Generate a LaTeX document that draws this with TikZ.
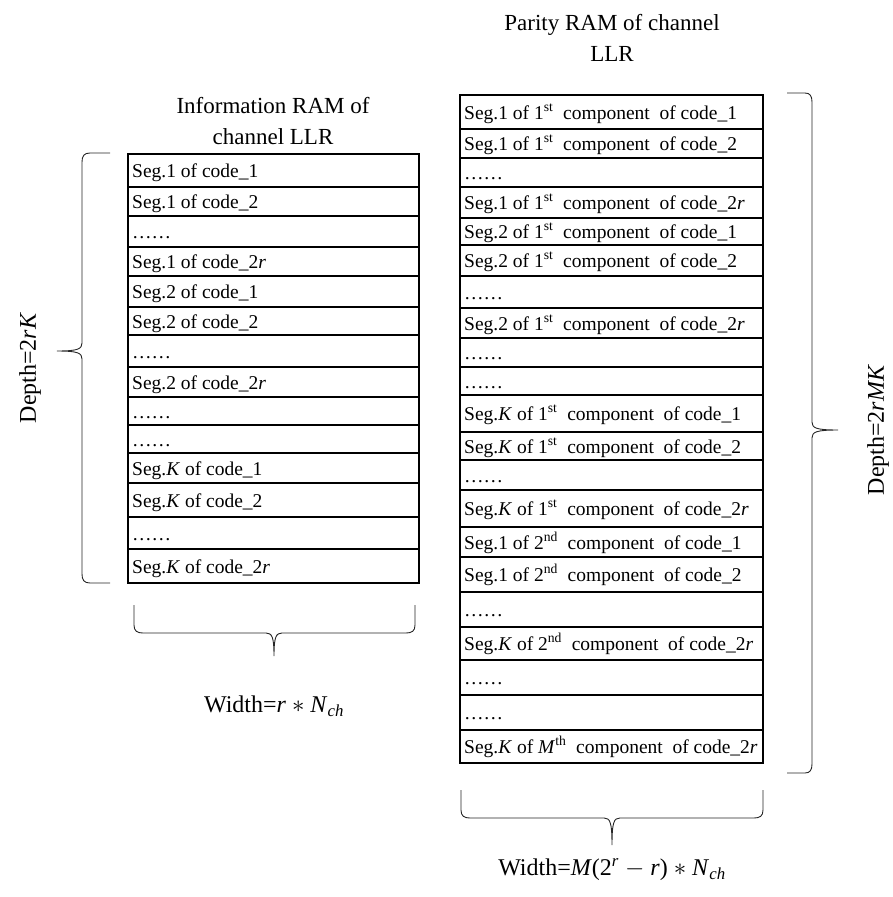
\documentclass[tikz,border=0pt]{standalone}
\usepackage{fontspec}
\setmainfont{Liberation Serif}
\newcommand{\vi}[1]{\textit{#1}}
\begin{document}
\begin{tikzpicture}[x=1pt,y=-1pt]
\tikzset{
 cell/.style={font=\fontsize{19.5}{22}\selectfont, anchor=base west, inner sep=0pt},
 grid/.style={line width=1.6pt},
 brace/.style={line width=0.9pt, black!85},
 title/.style={font=\fontsize{23}{31}\selectfont, align=center},
 lab/.style={font=\fontsize{24}{28}\selectfont},
}
\useasboundingbox (0,0) rectangle (892,897);
% Left table
\foreach \t/\b/\txt [count=\i] in {
 154/187/{Seg.1 of code\_1},
 187/216/{Seg.1 of code\_2},
 216/247/{……},
 247/276/{Seg.1 of code\_2\vi{r}},
 276/307/{Seg.2 of code\_1},
 307/335/{Seg.2 of code\_2},
 335/367/{……},
 367/397/{Seg.2 of code\_2\vi{r}},
 397/425/{……},
 425/453/{……},
 453/483/{Seg.\vi{K} of code\_1},
 483/517/{Seg.\vi{K} of code\_2},
 517/549/{……},
 549/583/{Seg.\vi{K} of code\_2\vi{r}}}{
 \draw[grid] (128,\t) rectangle (419,\b);
 \node[cell] (l\i) at (132,{(\t+\b)/2+7}) {\txt};
}
% Right table
\foreach \t/\b/\txt [count=\i] in {
 95/129/{Seg.1 of 1\textsuperscript{st}\ \ component\ \ of code\_1},
 129/158/{Seg.1 of 1\textsuperscript{st}\ \ component\ \ of code\_2},
 158/187/{……},
 187/218/{Seg.1 of 1\textsuperscript{st}\ \ component\ \ of code\_2\vi{r}},
 218/245/{Seg.2 of 1\textsuperscript{st}\ \ component\ \ of code\_1},
 245/276/{Seg.2 of 1\textsuperscript{st}\ \ component\ \ of code\_2},
 276/308/{……},
 308/338/{Seg.2 of 1\textsuperscript{st}\ \ component\ \ of code\_2\vi{r}},
 338/367/{……},
 367/395/{……},
 395/432/{Seg.\vi{K}\ of 1\textsuperscript{st}\ \ component\ \ of code\_1},
 432/460/{Seg.\vi{K}\ of 1\textsuperscript{st}\ \ component\ \ of code\_2},
 460/490/{……},
 490/527/{Seg.\vi{K}\ of 1\textsuperscript{st}\ \ component\ \ of code\_2\vi{r}},
 527/557/{Seg.1 of 2\textsuperscript{nd}\ \ component\ \ of code\_1},
 557/592/{Seg.1 of 2\textsuperscript{nd}\ \ component\ \ of code\_2},
 592/627/{……},
 627/660/{Seg.\vi{K}\ of 2\textsuperscript{nd}\ \ component\ \ of code\_2\vi{r}},
 660/695/{……},
 695/730/{……},
 730/763/{Seg.\vi{K}\ of \vi{M}\textsuperscript{th}\ \ component\ \ of code\_2\vi{r}}}{
 \draw[grid] (460,\t) rectangle (763,\b);
 \node[cell] (r\i) at (464,{(\t+\b)/2+7}) {\txt};
}
% Left brace
\draw[brace] (110,153) -- (90,153) .. controls (84,153) and (82,156) .. (82,162)
 -- (82,343) .. controls (82,349) and (78,351) .. (57,351)
 .. controls (78,351) and (82,353) .. (82,359)
 -- (82,574) .. controls (82,580) and (84,583) .. (90,583) -- (110,583);
% Right brace
\draw[brace] (787,93) -- (805,93) .. controls (810,93) and (812,96) .. (812,102)
 -- (812,422) .. controls (812,428) and (816,430) .. (838,430)
 .. controls (816,430) and (812,432) .. (812,438)
 -- (812,764) .. controls (812,770) and (810,773) .. (805,773) -- (787,773);
% Bottom left brace
\draw[brace] (134,605) -- (134,625) .. controls (134,631) and (137,633) .. (143,633)
 -- (266,633) .. controls (272,633) and (274,637) .. (274,656)
 .. controls (274,637) and (276,633) .. (282,633)
 -- (406,633) .. controls (412,633) and (415,631) .. (415,625) -- (415,605);
% Bottom right brace
\draw[brace] (461,790) -- (461,810) .. controls (461,816) and (464,818) .. (470,818)
 -- (604,818) .. controls (610,818) and (612,822) .. (612,845)
 .. controls (612,822) and (614,818) .. (620,818)
 -- (754,818) .. controls (760,818) and (763,816) .. (763,810) -- (763,790);
% Titles and labels
\node[title] (tl) at (273,121) {Information RAM of\\channel LLR};
\node[title] (tr) at (612,38) {Parity RAM of channel\\LLR};
\node[lab, rotate=90] (dl) at (30,368) {Depth=2\vi{rK}};
\node[lab, rotate=90] (dr) at (878,430) {Depth=2\vi{rMK}};
\node[lab] (wl) at (274,706) {Width=\vi{r} $\ast$ \vi{N}\textsubscript{\vi{ch}}};
\node[lab] (wr) at (612,870) {Width=\vi{M}(2\textsuperscript{\vi{r}} $-$ \vi{r}) $\ast$ \vi{N}\textsubscript{\vi{ch}}};
\end{tikzpicture}
\end{document}
